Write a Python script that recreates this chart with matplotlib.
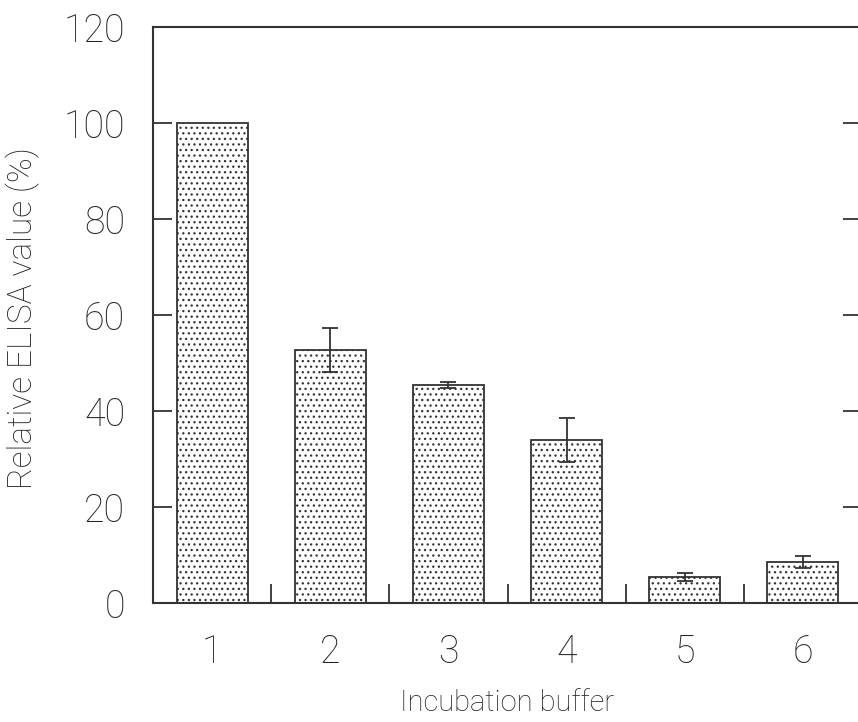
import matplotlib
matplotlib.use("Agg")
import matplotlib.pyplot as plt
import numpy as np

# values
buffers = ["1", "2", "3", "4", "5", "6"]
values = [100.0, 52.7, 45.4, 34.0, 5.4, 8.5]
errors = [0.0, 4.6, 0.7, 4.6, 0.8, 1.2]
yticks = [0, 20, 40, 60, 80, 100, 120]

plt.rcParams['font.family'] = ['Roboto', 'DejaVu Sans']
plt.rcParams['hatch.color'] = '#444444'
plt.rcParams['hatch.linewidth'] = 0.9

fig = plt.figure(figsize=(8.58, 7.22), dpi=100)
ax = fig.add_axes([153 / 858, 119 / 722, 709 / 858, 576 / 722])

x = np.arange(1, len(buffers) + 1)
ax.bar(x, values, width=0.6, facecolor='white', edgecolor='#333333',
       linewidth=1.3, hatch='...', zorder=2)
for xi, v, e in zip(x, values, errors):
    if e > 0:
        ax.errorbar(xi, v, yerr=e, fmt='none', ecolor='#333333',
                    elinewidth=1.3, capsize=6, capthick=1.3, zorder=3)

ax.set_xlim(0.5, 6.5)
ax.set_ylim(0, 120)
ax.set_yticks(yticks)
ax.set_yticklabels([str(t) for t in yticks], fontsize=27, fontweight='light', color='#222222')
ax.set_xticks(x)
ax.set_xticklabels(buffers, fontsize=27, fontweight='light', color='#222222')
ax.set_xticks(x[:-1] + 0.5, minor=True)

ax.tick_params(axis='x', which='major', length=0, pad=22)
ax.tick_params(axis='x', which='minor', direction='in', length=14, width=1.3, color='#333333')
ax.tick_params(axis='y', which='major', direction='in', length=14, width=1.3,
               color='#333333', right=True, pad=20)

for s in ax.spines.values():
    s.set_linewidth(1.5)
    s.set_color('#333333')

ax.set_xlabel("Incubation buffer", fontsize=21, fontweight='light', color='#222222', labelpad=13)
fig.text(23 / 858, 1 - 318 / 722, "Relative ELISA value (%)", rotation=90,
         fontsize=24, fontweight='light', color='#222222', ha='center', va='center')

fig.savefig("out.png", dpi=100)
